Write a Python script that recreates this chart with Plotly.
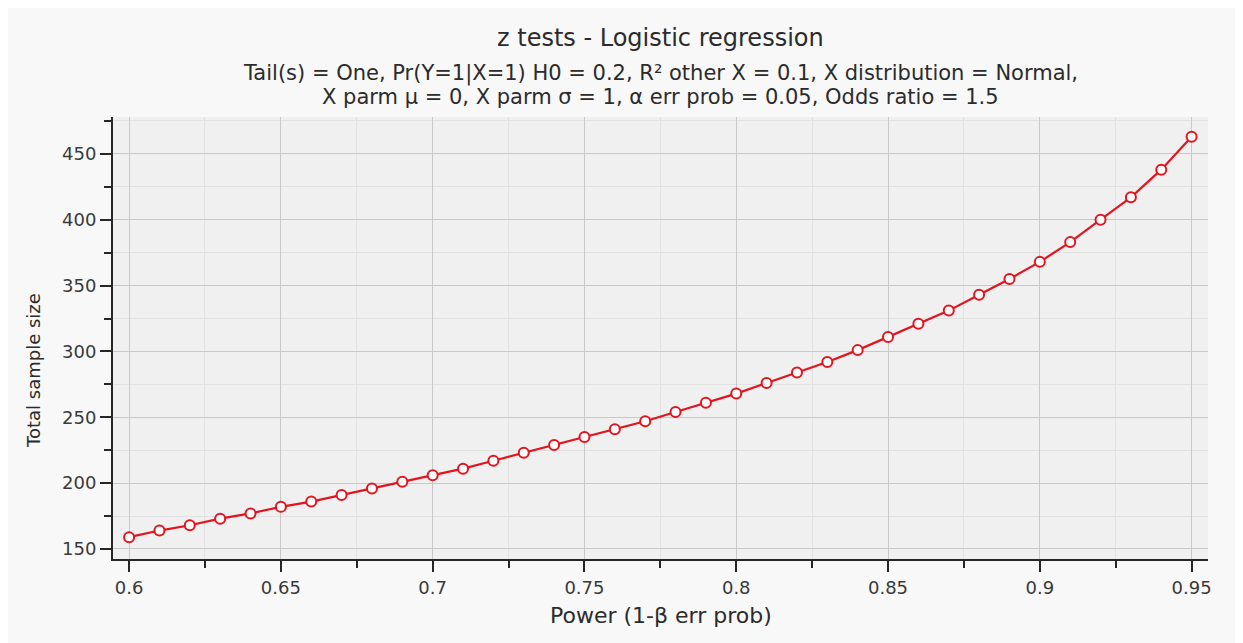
import plotly.graph_objects as go

power = [0.60, 0.61, 0.62, 0.63, 0.64, 0.65, 0.66, 0.67, 0.68, 0.69,
         0.70, 0.71, 0.72, 0.73, 0.74, 0.75, 0.76, 0.77, 0.78, 0.79,
         0.80, 0.81, 0.82, 0.83, 0.84, 0.85, 0.86, 0.87, 0.88, 0.89,
         0.90, 0.91, 0.92, 0.93, 0.94, 0.95]
sample_size = [159, 164, 168, 173, 177, 182, 186, 191, 196, 201,
               206, 211, 217, 223, 229, 235, 241, 247, 254, 261,
               268, 276, 284, 292, 301, 311, 321, 331, 343, 355,
               368, 383, 400, 417, 438, 463]

title = "z tests - Logistic regression"
subtitle1 = "Tail(s) = One, Pr(Y=1|X=1) H0 = 0.2, R² other X = 0.1, X distribution = Normal,"
subtitle2 = "X parm μ = 0, X parm σ = 1, α err prob = 0.05, Odds ratio = 1.5"
x_title = "Power (1-β err prob)"
y_title = "Total sample size"
x_ticks = [0.6, 0.65, 0.7, 0.75, 0.8, 0.85, 0.9, 0.95]
x_ticklabels = ["0.6", "0.65", "0.7", "0.75", "0.8", "0.85", "0.9", "0.95"]
y_ticks = [150, 200, 250, 300, 350, 400, 450]

FONT = "DejaVu Sans"
RED = "#e3141e"
AXC = "#262626"
TXT = "#2b2b2b"

fig = go.Figure()
fig.add_trace(go.Scatter(
    x=power, y=sample_size, mode="lines+markers",
    line=dict(color=RED, width=2.2),
    marker=dict(symbol="circle", size=10, color="white", line=dict(color=RED, width=2)),
    showlegend=False, hoverinfo="x+y",
))

axis_common = dict(
    showline=True, linecolor=AXC, linewidth=2,
    ticks="outside", ticklen=11, tickwidth=2, tickcolor=AXC,
    showgrid=True, gridcolor="#c8c8c8", gridwidth=1,
    zeroline=False,
    tickfont=dict(family=FONT, size=18, color="#3a3a3a"),
)

fig.update_xaxes(
    **axis_common,
    range=[0.5947, 0.9554],
    tickvals=x_ticks, ticktext=x_ticklabels,
    minor=dict(dtick=0.025, tick0=0.6, ticks="outside", ticklen=7, tickwidth=2,
               tickcolor=AXC, showgrid=True, gridcolor="#e1e1e1"),
)
fig.update_yaxes(
    **axis_common,
    range=[142.4, 478],
    tickvals=y_ticks,
    minor=dict(dtick=25, tick0=150, ticks="outside", ticklen=7, tickwidth=2,
               tickcolor=AXC, showgrid=True, gridcolor="#e1e1e1"),
)

fig.add_annotation(text=title, xref="paper", yref="paper", x=0.5, y=1, yshift=79,
                   xanchor="center", yanchor="middle", showarrow=False,
                   font=dict(family=FONT, size=24, color=TXT))
fig.add_annotation(text=subtitle1, xref="paper", yref="paper", x=0.5, y=1, yshift=44,
                   xanchor="center", yanchor="middle", showarrow=False,
                   font=dict(family=FONT, size=21, color=TXT))
fig.add_annotation(text=subtitle2, xref="paper", yref="paper", x=0.5, y=1, yshift=20,
                   xanchor="center", yanchor="middle", showarrow=False,
                   font=dict(family=FONT, size=21, color=TXT))
fig.add_annotation(text=x_title, xref="paper", yref="paper", x=0.5, y=0, yshift=-56,
                   xanchor="center", yanchor="middle", showarrow=False,
                   font=dict(family=FONT, size=22, color=TXT))
fig.add_annotation(text=y_title, xref="paper", yref="paper", x=0, y=0.5, xshift=-80, yshift=-33,
                   xanchor="center", yanchor="middle", showarrow=False, textangle=-90,
                   font=dict(family=FONT, size=18, color=TXT))

fig.update_layout(
    width=1235, height=635,
    margin=dict(l=105, r=35, t=109, b=84),
    paper_bgcolor="#f8f8f8",
    plot_bgcolor="#f0f0f0",
)

fig.write_html("out.html")
